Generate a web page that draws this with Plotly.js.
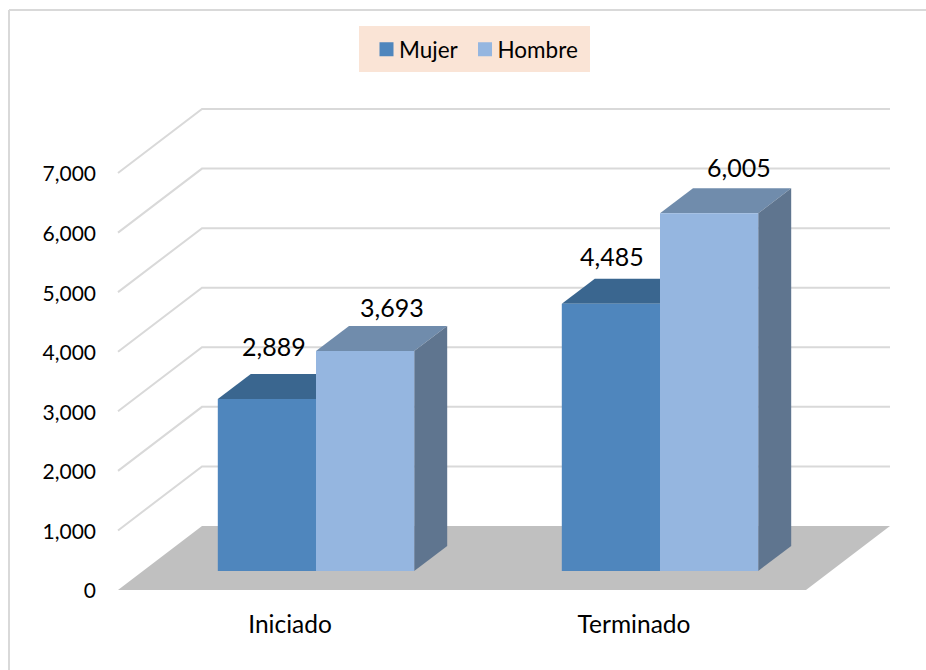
<!DOCTYPE html>
<html>
<head>
<meta charset="utf-8">
<script src="https://cdn.plot.ly/plotly-3.0.1.min.js"></script>
<style>html,body{margin:0;padding:0;background:#fff}#c{width:926px;height:670px}</style>
</head>
<body>
<div id="c"></div>
<script>
// Data
var categories = ['Iniciado', 'Terminado'];
var mujer = [2889, 4485];
var hombre = [3693, 6005];
var yTicks = [0, 1000, 2000, 3000, 4000, 5000, 6000, 7000];

// Pseudo-3D projection, in axis units
var W = 926, H = 670;
var M = {l: 108, r: 26, t: 90, b: 70};
var pxX = 344, pxY = 59.57;            // pixels per axis unit (x: per category, y: per 1000)
var u = function (p) { return p / pxX; };
var v = function (p) { return p / pxY * 1000; };
var xMin = u(-10), xMax = u(W - M.l - M.r - 10);
var yMin = v(-10), yMax = v(H - M.t - M.b - 10);
var wallDx = u(84), wallDy = v(64);    // depth of the floor
var shiftDx = u(26), shiftDy = v(19);  // bars stand this far behind the front edge
var barW = u(98.2);
var barDx = u(33), barDy = v(25);      // depth of a bar

var C = {
  mujer: '#4F86BD', hombre: '#95B6E0',
  mujerTop: '#3A668F', hombreTop: '#708CAC', side: '#5F758F',
  floor: '#C0C0C0', grid: '#D9D9D9'
};

var catX = categories.map(function (_, i) { return i + 0.5; });
var mujerX = catX.map(function (x) { return x + shiftDx - barW / 2; });
var hombreX = catX.map(function (x) { return x + shiftDx + barW / 2; });

function poly(pts, fill) {
  return {
    type: 'path', xref: 'x', yref: 'y', layer: 'below',
    path: 'M' + pts.map(function (p) { return p[0] + ',' + p[1]; }).join('L') + 'Z',
    fillcolor: fill, line: {width: 0}
  };
}
function gridline(val) {
  return {
    type: 'path', xref: 'x', yref: 'y', layer: 'below',
    path: 'M0,' + val + 'L' + wallDx + ',' + (val + wallDy) + 'L' + (2 + wallDx) + ',' + (val + wallDy),
    line: {color: C.grid, width: 2}
  };
}
function pageX(p) { return (p - M.l) / (W - M.l - M.r); }
function pageY(p) { return (H - M.b - p) / (H - M.t - M.b); }

var shapes = [];
// border lines (top and left)
shapes.push({type: 'line', xref: 'paper', yref: 'paper', layer: 'below', x0: pageX(9), x1: pageX(926), y0: pageY(10), y1: pageY(10), line: {color: C.grid, width: 2}});
shapes.push({type: 'line', xref: 'paper', yref: 'paper', layer: 'below', x0: pageX(9), x1: pageX(9), y0: pageY(10), y1: pageY(670), line: {color: C.grid, width: 2}});
// legend box
shapes.push({type: 'rect', xref: 'paper', yref: 'paper', layer: 'below', x0: pageX(359), x1: pageX(590), y0: pageY(26), y1: pageY(72), fillcolor: '#FAE4D6', line: {width: 0}});
// floor
shapes.push(poly([[0, 0], [2, 0], [2 + wallDx, wallDy], [wallDx, wallDy]], C.floor));
// grid
yTicks.slice(1).forEach(function (t) { shapes.push(gridline(t)); });
// bar top and side faces (bar fronts are drawn on top of these)
function addBox(x, val, topColor) {
  var l = x - barW / 2, r = x + barW / 2, b = shiftDy, t = shiftDy + val;
  shapes.push(poly([[l, t], [r, t], [r + barDx, t + barDy], [l + barDx, t + barDy]], topColor));
  shapes.push(poly([[r, b], [r + barDx, b + barDy], [r + barDx, t + barDy], [r, t]], C.side));
}
catX.forEach(function (_, i) {
  addBox(mujerX[i], mujer[i], C.mujerTop);
  addBox(hombreX[i], hombre[i], C.hombreTop);
});

var fmt = function (n) { return n.toLocaleString('en-US'); };
var labelFont = {family: 'Lato, sans-serif', size: 25, color: '#000'};
var labelShift = {m: [[7, 53], [1, 48]], h: [[27, 44], [30, 46]]};
var annotations = [];
catX.forEach(function (_, i) {
  annotations.push({x: mujerX[i], y: shiftDy + mujer[i], xref: 'x', yref: 'y', text: fmt(mujer[i]), showarrow: false,
    xshift: labelShift.m[i][0], yshift: labelShift.m[i][1], font: labelFont});
  annotations.push({x: hombreX[i], y: shiftDy + hombre[i], xref: 'x', yref: 'y', text: fmt(hombre[i]), showarrow: false,
    xshift: labelShift.h[i][0], yshift: labelShift.h[i][1], font: labelFont});
});

var traces = [
  {type: 'bar', name: 'Mujer', x: mujerX, y: mujer, base: shiftDy, width: barW,
   marker: {color: C.mujer, line: {width: 0}}, hoverinfo: 'name+y'},
  {type: 'bar', name: 'Hombre', x: hombreX, y: hombre, base: shiftDy, width: barW,
   marker: {color: C.hombre, line: {width: 0}}, hoverinfo: 'name+y'}
];

var layout = {
  width: W, height: H,
  margin: M,
  paper_bgcolor: '#fff', plot_bgcolor: 'rgba(0,0,0,0)',
  barmode: 'overlay',
  showlegend: true,
  legend: {
    orientation: 'h', x: pageX(366.5), y: pageY(28), xanchor: 'left', yanchor: 'top',
    bgcolor: 'rgba(0,0,0,0)', borderwidth: 0,
    font: {family: 'Lato, sans-serif', size: 22.5, color: '#000'},
    itemwidth: 30, tracegroupgap: 0
  },
  xaxis: {
    range: [xMin, xMax], tickmode: 'array', tickvals: catX, ticktext: categories,
    showgrid: false, zeroline: false, showline: false, ticks: '', ticklabelstandoff: 7,
    tickfont: {family: 'Lato, sans-serif', size: 24.5, color: '#000'}
  },
  yaxis: {
    range: [yMin, yMax], tickmode: 'array', tickvals: yTicks, ticktext: yTicks.map(fmt),
    showgrid: false, zeroline: false, showline: false, ticks: '', ticklabelstandoff: 11,
    ticklabelshift: 1,
    tickfont: {family: 'Lato, sans-serif', size: 21, color: '#000'}
  },
  shapes: shapes,
  annotations: annotations
};

Plotly.newPlot('c', traces, layout, {displayModeBar: false, responsive: false}).then(function (gd) {
  // Tighten legend: larger swatches, text closer to its swatch, as in the reference
  gd.querySelectorAll('.legend .legendtext').forEach(function (t) {
    t.setAttribute('x', parseFloat(t.getAttribute('x')) - 7.5);
  });
  gd.querySelectorAll('.legend .legendpoints path').forEach(function (p) {
    p.setAttribute('d', 'M7,7H-7V-7H7Z');
  });
  var items = gd.querySelectorAll('.legend .traces');
  if (items.length > 1) {
    var m = /translate\(([-\d.]+),\s*([-\d.]+)\)/.exec(items[1].getAttribute('transform') || '');
    if (m) items[1].setAttribute('transform', 'translate(' + (parseFloat(m[1]) - 6) + ',' + m[2] + ')');
  }
});
</script>
</body>
</html>
